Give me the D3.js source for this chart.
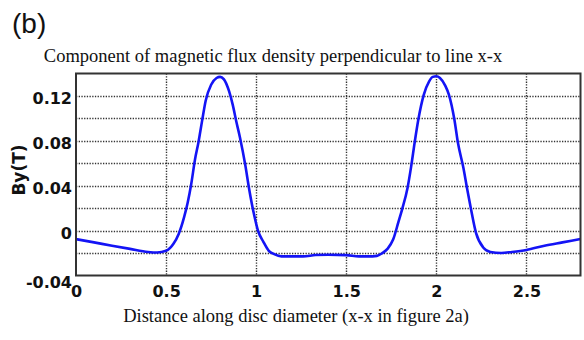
<!DOCTYPE html>
<html>
<head>
<meta charset="utf-8">
<script src="https://cdn.jsdelivr.net/npm/d3@7"></script>
<style>
  html, body { margin: 0; padding: 0; background: #fff; }
  svg { display: block; }
</style>
</head>
<body>
<svg id="chart" width="584" height="340"></svg>
<script>
// Distance along the disc diameter
const distance = [
  0, 0.1, 0.2, 0.3, 0.4, 0.45, 0.5, 0.54, 0.57, 0.6, 0.62, 0.64, 0.66, 0.68, 0.70, 0.72,
  0.75, 0.78, 0.80, 0.82, 0.85, 0.87, 0.89, 0.91, 0.94, 0.96, 0.99, 1.01, 1.04, 1.07, 1.10,
  1.14, 1.2, 1.26, 1.33, 1.4, 1.5, 1.57, 1.62, 1.67, 1.70, 1.73, 1.76, 1.79, 1.81, 1.84,
  1.86, 1.88, 1.90, 1.93, 1.96, 1.98, 2.00, 2.02, 2.05, 2.07, 2.10, 2.12, 2.15, 2.17,
  2.19, 2.22, 2.26, 2.30, 2.36, 2.42, 2.5, 2.6, 2.7, 2.8
];
// By (T), perpendicular flux density component
const byTesla = [
  -0.0076, -0.0105, -0.0135, -0.0163, -0.0190, -0.0195, -0.0180, -0.0120, -0.0030, 0.0120,
  0.0250, 0.0420, 0.0630, 0.0790, 0.0980, 0.1160, 0.1300, 0.1360, 0.1370, 0.1350,
  0.1240, 0.1120, 0.0970, 0.0830, 0.0580, 0.0380, 0.0130, 0.0000, -0.0100, -0.0180,
  -0.0210, -0.0230, -0.0230, -0.0230, -0.0218, -0.0215, -0.0218, -0.0230, -0.0230, -0.0225,
  -0.0200, -0.0160, -0.0080, 0.0080, 0.0190, 0.0380, 0.0570, 0.0790, 0.0990, 0.1210,
  0.1330, 0.1370, 0.1375, 0.1360, 0.1290, 0.1210, 0.0990, 0.0780, 0.0560, 0.0380,
  0.0210, -0.0020, -0.0150, -0.0190, -0.0200, -0.0190, -0.0172, -0.0135, -0.0105, -0.0075
];
const xTicks = [0, 0.5, 1, 1.5, 2, 2.5];
const xTickLabels = ["0", "0.5", "1", "1.5", "2", "2.5"];
const yTicks = [-0.04, 0, 0.04, 0.08, 0.12];
const yTickLabels = ["-0.04", "0", "0.04", "0.08", "0.12"];
const yGrid = [-0.02, 0, 0.02, 0.04, 0.06, 0.08, 0.10, 0.12];

const panelLabel = "(b)";
const title = "Component of magnetic flux density perpendicular to line x-x";
const xTitle = "Distance along disc diameter (x-x in figure 2a)";
const yTitle = "By(T)";

const svg = d3.select("#chart");
const plot = { left: 76, right: 580.5, top: 73.5, bottom: 275.5 };

const x = d3.scaleLinear().domain([0, 2.8]).range([plot.left, plot.right]);
const y = d3.scaleLinear().domain([-0.04, 0.14]).range([plot.bottom, plot.top]);

// Dotted grid
const grid = svg.append("g").attr("stroke", "#333").attr("stroke-width", 1.4)
  .attr("stroke-dasharray", "1.3,1.4");
grid.selectAll("line.v").data(xTicks.filter(d => d > 0)).join("line")
  .attr("class", "v")
  .attr("x1", d => Math.round(x(d)) + 0.5).attr("x2", d => Math.round(x(d)) + 0.5)
  .attr("y1", plot.top).attr("y2", plot.bottom);
grid.selectAll("line.h").data(yGrid).join("line")
  .attr("class", "h")
  .attr("y1", d => Math.round(y(d)) + 0.5).attr("y2", d => Math.round(y(d)) + 0.5)
  .attr("x1", plot.left).attr("x2", plot.right);

// Curve
const line = d3.line()
  .x((d, i) => x(distance[i]))
  .y(d => y(d))
  .curve(d3.curveMonotoneX);
svg.append("path")
  .datum(byTesla)
  .attr("fill", "none")
  .attr("stroke", "#1414f5")
  .attr("stroke-width", 2.6)
  .attr("stroke-linejoin", "round")
  .attr("d", line);

// Frame
svg.append("rect")
  .attr("x", plot.left).attr("y", plot.top)
  .attr("width", plot.right - plot.left).attr("height", plot.bottom - plot.top)
  .attr("fill", "none").attr("stroke", "#333").attr("stroke-width", 2);

// Axes (labels only; the frame and grid stand in for the domain lines)
const xAxis = d3.axisBottom(x).tickValues(xTicks)
  .tickFormat((d, i) => xTickLabels[i]).tickSize(0).tickPadding(10);
const gx = svg.append("g").attr("transform", `translate(0,${plot.bottom})`).call(xAxis);
gx.select(".domain").remove();
gx.selectAll("text")
  .attr("font-family", "DejaVu Sans, Verdana, sans-serif")
  .attr("font-weight", "bold").attr("font-size", 16).attr("fill", "#111");

const yAxis = d3.axisLeft(y).tickValues(yTicks)
  .tickFormat((d, i) => yTickLabels[i]).tickSize(0).tickPadding(4);
const gy = svg.append("g").attr("transform", `translate(${plot.left},0)`).call(yAxis);
gy.select(".domain").remove();
gy.selectAll("text")
  .attr("font-family", "DejaVu Sans, Verdana, sans-serif")
  .attr("font-weight", "bold").attr("font-size", 16).attr("fill", "#111")
  .attr("dy", d => d === -0.04 ? "0.75em" : "0.5em");

// Axis titles
svg.append("text")
  .attr("transform", `translate(25,${170}) rotate(-90)`)
  .attr("text-anchor", "middle")
  .attr("font-family", "DejaVu Sans, Verdana, sans-serif")
  .attr("font-weight", "bold").attr("font-size", 17).attr("fill", "#111")
  .text(yTitle);

svg.append("text")
  .attr("x", 296).attr("y", 322)
  .attr("text-anchor", "middle")
  .attr("font-family", "Liberation Serif, Times New Roman, serif")
  .attr("font-size", 18.5).attr("fill", "#111")
  .text(xTitle);

svg.append("text")
  .attr("x", 273).attr("y", 62)
  .attr("text-anchor", "middle")
  .attr("font-family", "Liberation Serif, Times New Roman, serif")
  .attr("font-size", 18.5).attr("fill", "#111")
  .text(title);

svg.append("text")
  .attr("x", 12).attr("y", 33)
  .attr("font-family", "Liberation Sans, Arial, sans-serif")
  .attr("font-size", 28).attr("fill", "#111")
  .text(panelLabel);
</script>
</body>
</html>
